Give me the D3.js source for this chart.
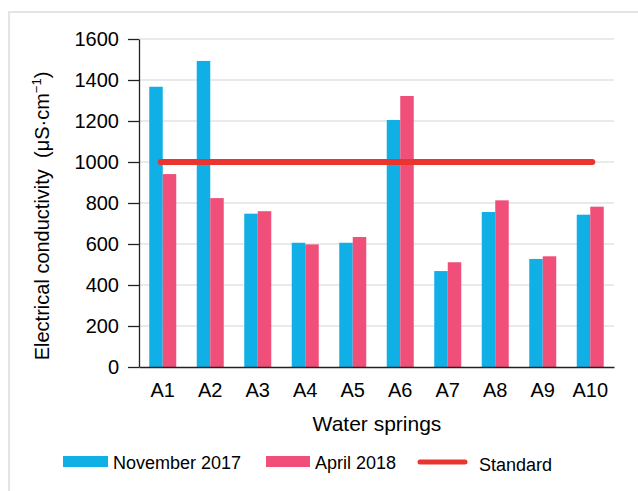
<!DOCTYPE html>
<html>
<head>
<meta charset="utf-8">
<script src="https://cdn.jsdelivr.net/npm/d3@7"></script>
<style>
  body { margin: 0; background: #fff; }
  text { font-family: "Liberation Sans", Arial, sans-serif; fill: #000; }
</style>
</head>
<body>
<div id="chart"></div>
<script>
// data
var springs = ["A1", "A2", "A3", "A4", "A5", "A6", "A7", "A8", "A9", "A10"];
var nov2017 = [1367, 1493, 748, 606, 606, 1205, 468, 756, 527, 743];
var apr2018 = [941, 824, 760, 598, 634, 1322, 511, 813, 540, 782];
var standard = 1000;
var yTicks = [0, 200, 400, 600, 800, 1000, 1200, 1400, 1600];

var width = 638, height = 491;
var margin = { left: 139, right: 24, top: 39, bottom: 124 };

var svg = d3.select("#chart").append("svg")
  .attr("width", width)
  .attr("height", height);

// light frame around the chart
svg.append("rect")
  .attr("x", 9).attr("y", 12)
  .attr("width", 640).attr("height", 490)
  .attr("fill", "none")
  .attr("stroke", "#e4e4e4")
  .attr("stroke-width", 2);

var x = d3.scaleBand()
  .domain(springs)
  .range([margin.left, width - margin.right]);

var inner = d3.scaleBand()
  .domain(["nov", "apr"])
  .range([0, 27]);

var y = d3.scaleLinear()
  .domain([0, 1600])
  .range([height - margin.bottom, margin.top]);

// gridlines
svg.append("g")
  .selectAll("line")
  .data(yTicks.slice(1))
  .enter()
  .append("line")
  .attr("x1", margin.left)
  .attr("x2", width - margin.right)
  .attr("y1", function(d) { return y(d); })
  .attr("y2", function(d) { return y(d); })
  .attr("stroke", "#e3e3e3")
  .attr("stroke-width", 1.5);

// bars
var groups = svg.append("g")
  .selectAll("g")
  .data(springs)
  .enter()
  .append("g")
  .attr("transform", function(d) { return "translate(" + (x(d) + x.bandwidth() / 2 - 13.5) + ",0)"; });

groups.append("rect")
  .attr("x", inner("nov"))
  .attr("width", inner.bandwidth())
  .attr("y", function(d, i) { return y(nov2017[i]); })
  .attr("height", function(d, i) { return y(0) - y(nov2017[i]); })
  .attr("fill", "#10b0e6");

groups.append("rect")
  .attr("x", inner("apr"))
  .attr("width", inner.bandwidth())
  .attr("y", function(d, i) { return y(apr2018[i]); })
  .attr("height", function(d, i) { return y(0) - y(apr2018[i]); })
  .attr("fill", "#ef4f78");

// standard line
svg.append("line")
  .attr("x1", x(springs[0]) + x.bandwidth() / 2 - 2)
  .attr("x2", x(springs[springs.length - 1]) + x.bandwidth() / 2 + 2)
  .attr("y1", y(standard))
  .attr("y2", y(standard))
  .attr("stroke", "#ea3430")
  .attr("stroke-width", 6)
  .attr("stroke-linecap", "round");

// axes
var yAxis = svg.append("g")
  .attr("transform", "translate(" + margin.left + ",0)")
  .call(d3.axisLeft(y).tickValues(yTicks).tickFormat(d3.format("d"))
    .tickSize(11).tickPadding(9).tickSizeOuter(0));
yAxis.select(".domain").attr("stroke", "#222").attr("stroke-width", 1.3);
yAxis.selectAll(".tick line").attr("stroke", "#222").attr("stroke-width", 1.3);
yAxis.selectAll("text").style("font-size", "20px");

var xAxis = svg.append("g")
  .attr("transform", "translate(0," + y(0) + ")")
  .call(d3.axisBottom(x).tickSize(0).tickPadding(16).tickSizeOuter(0));
xAxis.select(".domain").attr("stroke", "#222").attr("stroke-width", 1.3);
xAxis.selectAll("text").style("font-size", "20px");

// axis titles
svg.append("text")
  .attr("x", 377)
  .attr("y", 431)
  .attr("text-anchor", "middle")
  .style("font-size", "21px")
  .text("Water springs");

var yTitle = svg.append("text")
  .attr("transform", "translate(49,216) rotate(-90)")
  .attr("text-anchor", "middle")
  .style("font-size", "20px");
yTitle.append("tspan").text("Electrical conductivity\u00a0 (μS·cm");
yTitle.append("tspan").attr("dy", -8).style("font-size", "13px").text("−1");
yTitle.append("tspan").attr("dy", 8).text(")");

// legend
var legend = svg.append("g").attr("transform", "translate(0,462)");
legend.append("rect").attr("x", 63).attr("y", -6).attr("width", 45).attr("height", 11).attr("fill", "#10b0e6");
legend.append("text").attr("x", 113).attr("y", 7).style("font-size", "18px").text("November 2017");
legend.append("rect").attr("x", 266).attr("y", -6).attr("width", 44).attr("height", 11).attr("fill", "#ef4f78");
legend.append("text").attr("x", 315).attr("y", 7).style("font-size", "18px").text("April 2018");
legend.append("line").attr("x1", 420).attr("x2", 465).attr("y1", 0).attr("y2", 0)
  .attr("stroke", "#ea3430").attr("stroke-width", 5).attr("stroke-linecap", "round");
legend.append("text").attr("x", 479).attr("y", 9).style("font-size", "18px").text("Standard");
</script>
</body>
</html>
